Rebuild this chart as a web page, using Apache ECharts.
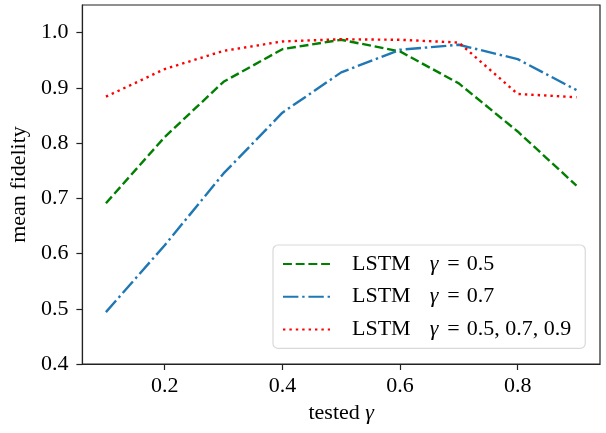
<!DOCTYPE html>
<html>
<head>
<meta charset="utf-8">
<script src="https://cdn.jsdelivr.net/npm/echarts@6/dist/echarts.min.js"></script>
<style>
  html, body { margin: 0; padding: 0; background: #fff; }
  #chart { width: 606px; height: 433px; }
</style>
</head>
<body>
<div id="chart"></div>
<script>
const testedGamma = [0.1, 0.2, 0.3, 0.4, 0.5, 0.6, 0.7, 0.8, 0.9];
const lstm05 = [0.691, 0.811, 0.911, 0.970, 0.987, 0.966, 0.908, 0.821, 0.723];
const lstm07 = [0.494, 0.615, 0.745, 0.855, 0.928, 0.969, 0.978, 0.952, 0.896];
const lstmMix = [0.884, 0.934, 0.967, 0.984, 0.988, 0.987, 0.982, 0.889, 0.883];
const seriesNames = ['LSTM γ = 0.5', 'LSTM γ = 0.7', 'LSTM γ = 0.5, 0.7, 0.9'];
const xTicks = [0.2, 0.4, 0.6, 0.8];
const yTicks = [0.4, 0.5, 0.6, 0.7, 0.8, 0.9, 1.0];

const serif = '"Liberation Serif", "DejaVu Serif", serif';
const fs = 22;
const pair = ys => ys.map((y, i) => [testedGamma[i], y]);

const legendRich = {
  t: { fontFamily: serif, fontSize: fs, color: '#000' },
  g: { fontFamily: serif, fontStyle: 'italic', fontSize: fs, color: '#000', padding: [0, 9, 0, 19] },
  e: { fontFamily: serif, fontSize: fs, color: '#000', padding: [0, 7, 0, 0] },
};
// "LSTM γ = 0.5" -> LSTM, italic gamma, "=", value; math-ish spacing via padding
const legendFmt = name => {
  const m = name.match(/^(\S+) γ = (.*)$/);
  return '{t|' + m[1] + '}{g|γ}{e|=}{t|' + m[2] + '}';
};

const styles = [
  { color: '#008000', dash: [8.9, 3.8] },
  { color: '#1f77b4', dash: [15.4, 3.8, 2.4, 3.8] },
  { color: '#ff0000', dash: [2.4, 4] },
];
const dataSets = [lstm05, lstm07, lstmMix];

const series = dataSets.map((ys, i) => ({
  name: seriesNames[i],
  type: 'line',
  data: pair(ys),
  symbol: 'none',
  silent: true,
  itemStyle: { color: styles[i].color },
  lineStyle: { color: styles[i].color, width: 2.4, type: styles[i].dash },
}));

const myChart = echarts.init(document.getElementById('chart'));
myChart.setOption({
  animation: false,
  grid: {
    left: 82, right: 6, top: 5, bottom: 69,
    show: true, borderColor: '#222', borderWidth: 1.2,
  },
  legend: {
    left: 273, top: 245,
    orient: 'vertical',
    itemWidth: 47, itemHeight: 14, itemGap: 10.7,
    padding: [8, 14, 8, 9],
    backgroundColor: '#fff',
    borderColor: '#d9d9d9', borderWidth: 1.2, borderRadius: 5,
    itemStyle: { opacity: 0 },
    formatter: legendFmt,
    textStyle: { rich: legendRich, padding: [0, 0, 0, 17] },
  },
  xAxis: {
    type: 'value',
    min: 0.06, max: 0.94,
    name: '{t|tested }{g|γ}',
    nameLocation: 'middle',
    nameGap: 34,
    nameTextStyle: {
      rich: {
        t: { fontFamily: serif, fontSize: fs, color: '#000' },
        g: { fontFamily: serif, fontStyle: 'italic', fontSize: fs, color: '#000' },
      },
    },
    splitLine: { show: false },
    axisLine: { show: true, lineStyle: { color: '#222', width: 1.2 } },
    axisTick: { show: true, inside: false, length: 6, customValues: xTicks, lineStyle: { color: '#222', width: 1.2 } },
    axisLabel: {
      customValues: xTicks, margin: 11,
      fontFamily: serif, fontSize: fs, color: '#000',
      formatter: v => v.toFixed(1),
    },
  },
  yAxis: {
    type: 'value',
    min: 0.4, max: 1.05,
    name: 'mean fidelity',
    nameLocation: 'middle',
    nameGap: 49,
    nameTextStyle: { fontFamily: serif, fontSize: fs, color: '#000' },
    splitLine: { show: false },
    axisLine: { show: true, lineStyle: { color: '#222', width: 1.2 } },
    axisTick: { show: true, inside: false, length: 6, customValues: yTicks, lineStyle: { color: '#222', width: 1.2 } },
    axisLabel: {
      customValues: yTicks, margin: 14,
      fontFamily: serif, fontSize: fs, color: '#000',
      formatter: v => v.toFixed(1),
    },
  },
  series: series,
});
</script>
</body>
</html>
